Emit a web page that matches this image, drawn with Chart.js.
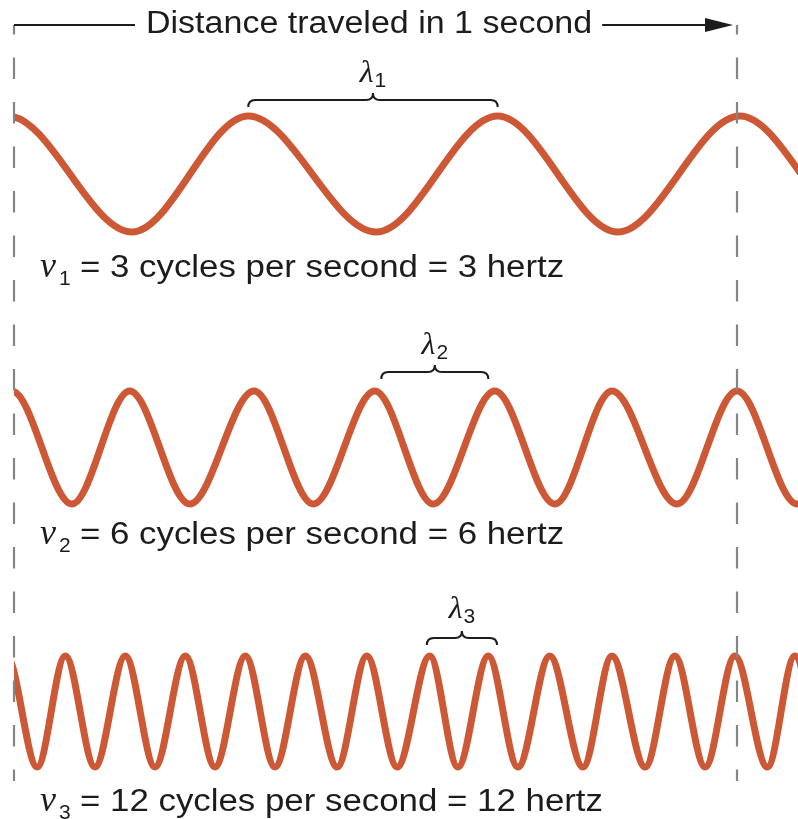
<!DOCTYPE html>
<html>
<head>
<meta charset="utf-8">
<script src="https://cdn.jsdelivr.net/npm/chart.js@4.4.1/dist/chart.umd.min.js"></script>
<style>
  html, body { margin: 0; padding: 0; background: #ffffff; }
  #wrap { width: 798px; height: 819px; position: relative; }
  canvas { display: block; }
</style>
</head>
<body>
<div id="wrap"><canvas id="c" width="798" height="819"></canvas></div>
<script>
// ---- DATA (x in "seconds of travel": 0 = left dashed line, 1 = right dashed line) ----
// positions of successive troughs (-1) and crests (+1)
const wave1X = [-0.177, -0.008, 0.163, 0.324, 0.501, 0.669, 0.835, 1.004, 1.173, 1.342];
const wave1Y = [-1, 1, -1, 1, -1, 1, -1, 1, -1, 1];

const wave2X = [-0.086, -0.003, 0.080, 0.160, 0.243, 0.332, 0.414, 0.499, 0.580, 0.665,
                0.748, 0.827, 0.917, 1.000, 1.083, 1.166, 1.249];
const wave2Y = [-1, 1, -1, 1, -1, 1, -1, 1, -1, 1, -1, 1, -1, 1, -1, 1, -1];

const wave3X = [-0.051, -0.010, 0.032, 0.071, 0.112, 0.154, 0.195, 0.237, 0.278, 0.320,
                0.361, 0.403, 0.447, 0.488, 0.530, 0.575, 0.614, 0.656, 0.697, 0.741,
                0.787, 0.827, 0.873, 0.914, 0.956, 0.997, 1.042, 1.080, 1.122, 1.163];
const wave3Y = [-1, 1, -1, 1, -1, 1, -1, 1, -1, 1, -1, 1, -1, 1, -1, 1, -1, 1, -1, 1,
                -1, 1, -1, 1, -1, 1, -1, 1, -1, 1];

// wavelength braces [start, end] in seconds
const lambdaSpans = [[0.324, 0.669], [0.508, 0.656], [0.571, 0.668]];
const lambdaSubs = ['1', '2', '3'];

// labels
const titleText = 'Distance traveled in 1 second';
const freqSubs = ['1', '2', '3'];
const freqTexts = ['= 3 cycles per second = 3 hertz',
                   '= 6 cycles per second = 6 hertz',
                   '= 12 cycles per second = 12 hertz'];

// ---- LAYOUT ----
const W = 798, H = 819;
const X_MAX = (798 - 14) / 723;
const bands = [[116, 232], [391, 504], [656, 767]];   // crest / trough pixel rows
const braceRows = [100, 372, 638];
const lambdaBase = [82, 354, 618];
const freqBase = [277, 544, 811];
const WAVE = '#cd5836';
const INK = '#1c1c1c';
const SX_TITLE = 1.097;
const SX_FREQ = 1.124;

function axisFor(band) {
  const p = band[0], q = band[1];
  const R = 2 * H / (q - p);
  const max = 1 + p * R / H;
  return { type: 'linear', display: false, min: max - R, max: max };
}

function pts(xs, ys) { return xs.map((x, i) => ({ x: x, y: ys[i] })); }

function ds(xs, ys, axis) {
  return {
    data: pts(xs, ys),
    yAxisID: axis,
    borderColor: WAVE,
    borderWidth: 7,
    pointRadius: 0,
    fill: false,
    cubicInterpolationMode: 'monotone',
    borderCapStyle: 'round',
    borderJoinStyle: 'round'
  };
}

function sText(ctx, str, x, y, font, sx) {
  ctx.save();
  ctx.font = font;
  ctx.translate(x, y);
  ctx.scale(sx, 1);
  ctx.fillText(str, 0, 0);
  const w = ctx.measureText(str).width * sx;
  ctx.restore();
  return w;
}

function brace(ctx, xa, xb, y, h) {
  const xm = (xa + xb) / 2;
  ctx.beginPath();
  ctx.moveTo(xa, y + h);
  ctx.quadraticCurveTo(xa, y, xa + h, y);
  ctx.lineTo(xm - h, y);
  ctx.quadraticCurveTo(xm, y, xm, y - h);
  ctx.quadraticCurveTo(xm, y, xm + h, y);
  ctx.lineTo(xb - h, y);
  ctx.quadraticCurveTo(xb, y, xb, y + h);
  ctx.stroke();
}

const overlay = {
  id: 'overlay',
  afterDatasetsDraw(chart) {
    const ctx = chart.ctx;
    const xs = chart.scales.x;
    const x0 = xs.getPixelForValue(0), x1 = xs.getPixelForValue(1);
    ctx.save();

    // dashed "1 second" boundaries
    ctx.strokeStyle = '#858585';
    ctx.lineWidth = 2.2;
    ctx.setLineDash([21.5, 23]);
    ctx.lineDashOffset = 12;
    [x0, x1].forEach(x => {
      ctx.beginPath();
      ctx.moveTo(x, 25);
      ctx.lineTo(x, 781);
      ctx.stroke();
    });
    ctx.setLineDash([]);

    // title with arrow
    ctx.fillStyle = INK;
    ctx.textBaseline = 'alphabetic';
    ctx.textAlign = 'left';
    const tx = 146;
    const tw = sText(ctx, titleText, tx, 33, '31px "Liberation Sans", Arial, sans-serif', SX_TITLE);
    ctx.strokeStyle = INK;
    ctx.lineWidth = 2;
    ctx.beginPath();
    ctx.moveTo(x0, 25); ctx.lineTo(tx - 11, 25);
    ctx.moveTo(tx + tw + 10, 25); ctx.lineTo(x1 - 28, 25);
    ctx.stroke();
    ctx.beginPath();
    ctx.moveTo(x1 - 4, 25);
    ctx.lineTo(x1 - 32, 18);
    ctx.lineTo(x1 - 32, 32);
    ctx.closePath();
    ctx.fill();

    // wavelength braces and labels
    ctx.lineWidth = 2;
    lambdaSpans.forEach((s, i) => {
      const xa = xs.getPixelForValue(s[0]);
      const xb = xs.getPixelForValue(s[1]);
      brace(ctx, xa, xb, braceRows[i], 7);
      const xm = (xa + xb) / 2;
      const lf = 'italic 32px "Liberation Serif", "Times New Roman", serif';
      const sf = '21px "Liberation Sans", Arial, sans-serif';
      ctx.font = lf;
      const lw = ctx.measureText('λ').width;
      ctx.font = sf;
      const sw = ctx.measureText(lambdaSubs[i]).width;
      const gx = xm - (lw + sw + 1) / 2;
      ctx.font = lf;
      ctx.fillText('λ', gx, lambdaBase[i]);
      ctx.font = sf;
      ctx.fillText(lambdaSubs[i], gx + lw + 1, lambdaBase[i] + 5);
    });

    // frequency labels
    freqTexts.forEach((t, i) => {
      const b = freqBase[i];
      ctx.font = 'italic 36px "Liberation Serif", "Times New Roman", serif';
      ctx.fillText('ν', 40, b);
      ctx.font = '21px "Liberation Sans", Arial, sans-serif';
      ctx.fillText(freqSubs[i], 59, b + 8);
      sText(ctx, t, 80, b, '31px "Liberation Sans", Arial, sans-serif', SX_FREQ);
    });

    ctx.restore();
  }
};

new Chart(document.getElementById('c'), {
  type: 'line',
  data: {
    datasets: [
      ds(wave1X, wave1Y, 'y1'),
      ds(wave2X, wave2Y, 'y2'),
      ds(wave3X, wave3Y, 'y3')
    ]
  },
  options: {
    responsive: false,
    animation: false,
    devicePixelRatio: 1,
    layout: { padding: { left: 14, right: 0, top: 0, bottom: 0 } },
    plugins: { legend: { display: false }, title: { display: false }, tooltip: { enabled: false } },
    events: [],
    scales: {
      x: { type: 'linear', display: false, min: 0, max: X_MAX },
      y1: axisFor(bands[0]),
      y2: axisFor(bands[1]),
      y3: axisFor(bands[2])
    }
  },
  plugins: [overlay]
});
</script>
</body>
</html>
